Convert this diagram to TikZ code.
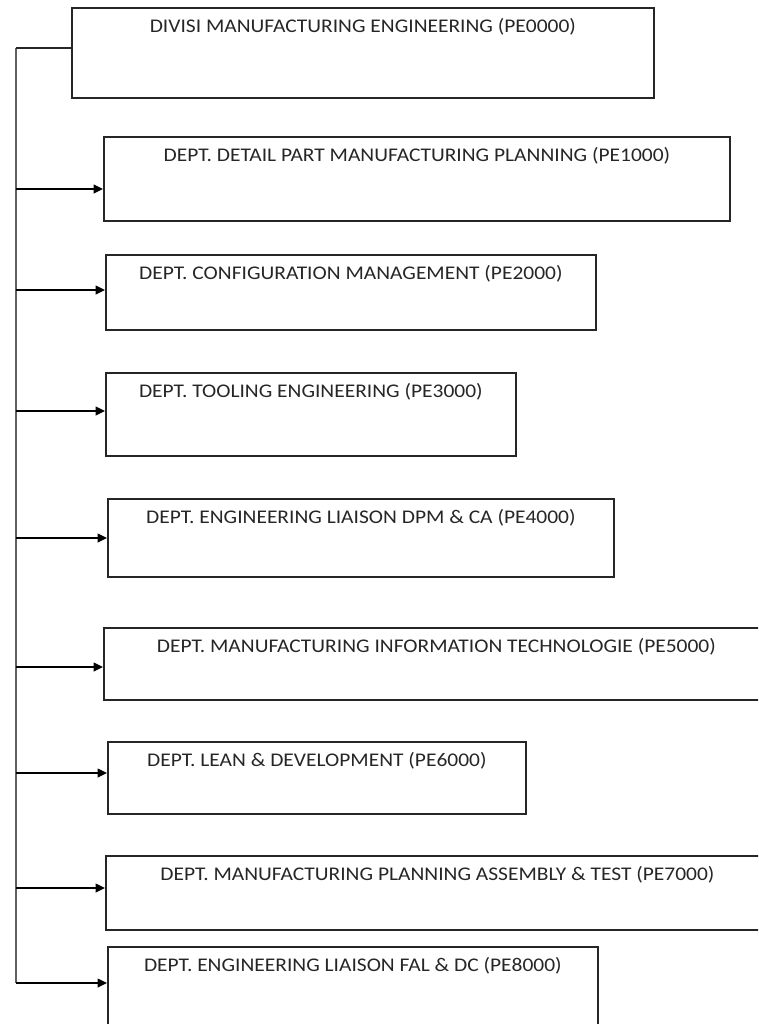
\documentclass[tikz,border=0pt]{standalone}
\usepackage{fontspec}
\setmainfont{Carlito}[FakeStretch=1.11]
\usetikzlibrary{arrows.meta,calc,positioning}
\definecolor{boxline}{rgb}{0.15,0.15,0.15}
\definecolor{trunkgray}{rgb}{0.38,0.38,0.38}
\begin{document}
\begin{tikzpicture}[x=0.75pt,y=-0.75pt,
    dept/.style={draw=boxline,line width=1.3pt,anchor=north west,inner sep=0pt},
    dtext/.style={anchor=north,inner sep=0pt,yshift=-8.5pt,text=black!85,font=\fontsize{14.5}{16}\selectfont},
    trunk/.style={draw=trunkgray,line width=1.4pt},
    link/.style={line width=1.1pt,-{Triangle[length=7pt,width=6.5pt]}}]
        \useasboundingbox (0,0) rectangle (758,1024);
        \clip (0,0) rectangle (758,1024);
        %Boxes
        \node[dept,minimum width=582*0.75pt,minimum height=90*0.75pt] (d0) at (71,7) {};
        \node[dept,minimum width=626*0.75pt,minimum height=84*0.75pt] (d1) at (103,136) {};
        \node[dept,minimum width=490*0.75pt,minimum height=75*0.75pt] (d2) at (105,254) {};
        \node[dept,minimum width=410*0.75pt,minimum height=83*0.75pt] (d3) at (105,372) {};
        \node[dept,minimum width=506*0.75pt,minimum height=78*0.75pt] (d4) at (107,498) {};
        \node[dept,minimum width=665*0.75pt,minimum height=72*0.75pt] (d5) at (103,627) {};
        \node[dept,minimum width=418*0.75pt,minimum height=72*0.75pt] (d6) at (107,741) {};
        \node[dept,minimum width=663*0.75pt,minimum height=74*0.75pt] (d7) at (105,855) {};
        \node[dept,minimum width=490*0.75pt,minimum height=94*0.75pt] (d8) at (107,946) {};
        %Texts
        \node[dtext] (n0) at (d0.north) {DIVISI MANUFACTURING ENGINEERING (PE0000)};
        \node[dtext] (n1) at (d1.north) {DEPT. DETAIL PART MANUFACTURING PLANNING (PE1000)};
        \node[dtext] (n2) at (d2.north) {DEPT. CONFIGURATION MANAGEMENT (PE2000)};
        \node[dtext] (n3) at (d3.north) {DEPT. TOOLING ENGINEERING (PE3000)};
        \node[dtext] (n4) at (d4.north) {DEPT. ENGINEERING LIAISON DPM \& CA (PE4000)};
        \node[dtext] (n5) at (d5.north) {DEPT. MANUFACTURING INFORMATION TECHNOLOGIE (PE5000)};
        \node[dtext] (n6) at (d6.north) {DEPT. LEAN \& DEVELOPMENT (PE6000)};
        \node[dtext] (n7) at (d7.north) {DEPT. MANUFACTURING PLANNING ASSEMBLY \& TEST (PE7000)};
        \node[dtext] (n8) at (d8.north) {DEPT. ENGINEERING LIAISON FAL \& DC (PE8000)};
        %Trunk
        \coordinate (top) at (16,48);
        \coordinate (bot) at (16,983);
        \draw[trunk] (top) -- (bot);
        \draw[line width=1.3pt,boxline] (top) -- (top -| d0.west);
        %Arrows
        \foreach \i/\y in {1/189,2/290,3/411,4/538,5/667,6/773,7/888,8/983}{
          \coordinate (a\i) at (16,\y);
          \draw[link] (a\i) -- (a\i -| d\i.west);
        }
      \end{tikzpicture}
\end{document}
